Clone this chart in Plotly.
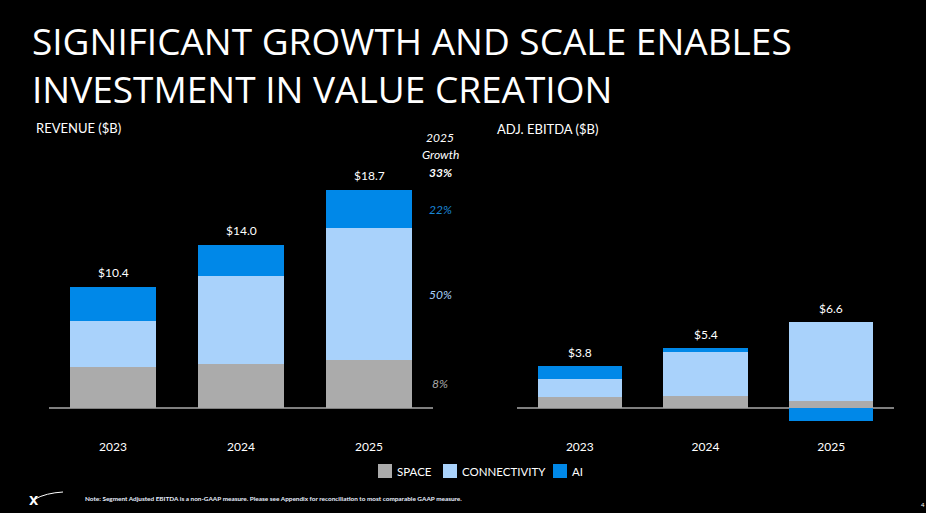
import plotly.graph_objects as go

# ---------------- data ----------------
years = ["2023", "2024", "2025"]
segments = ["SPACE", "CONNECTIVITY", "AI"]

revenue_space = [3.5, 3.7, 4.1]
revenue_connectivity = [3.9, 7.6, 11.3]
revenue_ai = [3.0, 2.7, 3.3]
revenue_totals = ["$10.4", "$14.0", "$18.7"]

ebitda_space = [1.0, 1.1, 0.6]
ebitda_connectivity = [1.6, 3.9, 7.2]
ebitda_ai = [1.2, 0.4, -1.2]
ebitda_totals = ["$3.8", "$5.4", "$6.6"]

growth_header = ["2025", "Growth", "33%"]
growth_by_segment = ["8%", "50%", "22%"]  # SPACE, CONNECTIVITY, AI

colors = {"SPACE": "#ababab", "CONNECTIVITY": "#a9d2fb", "AI": "#0088e8"}
growth_colors = ["#a9a9a9", "#a9d2fb", "#1a86d6"]

# ---------------- layout helpers ----------------
W, H = 926, 513
def px(x):
    return x / W
def py(y):
    return 1 - y / H

FONT = "Lato, Open Sans, sans-serif"
TOP, BOT = 180, 432
def yrange(zero_px, scale):
    return [-(BOT - zero_px) / scale, (zero_px - TOP) / scale]

fig = go.Figure()

rev_series = {"SPACE": revenue_space, "CONNECTIVITY": revenue_connectivity, "AI": revenue_ai}
ebi_series = {"SPACE": ebitda_space, "CONNECTIVITY": ebitda_connectivity, "AI": ebitda_ai}

for seg in segments:
    fig.add_trace(go.Bar(x=years, y=rev_series[seg], name=seg, marker_color=colors[seg],
                         marker_line_width=0, width=0.67, xaxis="x", yaxis="y",
                         showlegend=False, hoverinfo="skip"))
for seg in segments:
    fig.add_trace(go.Bar(x=years, y=ebi_series[seg], name=seg, marker_color=colors[seg],
                         marker_line_width=0, width=0.67, xaxis="x2", yaxis="y2",
                         showlegend=False, hoverinfo="skip"))

annotations = []
def note(x, y, text, size=12, color="white", xanchor="center", xref="paper", yref="paper",
         family=FONT, **kw):
    annotations.append(dict(x=x, y=y, xref=xref, yref=yref, text=text, showarrow=False,
                            xanchor=xanchor, yanchor=kw.pop("yanchor", "middle"),
                            font=dict(family=family, size=size, color=color), **kw))

# total labels (category index positions)
for i, yr in enumerate(years):
    top = revenue_space[i] + revenue_connectivity[i] + revenue_ai[i]
    note(i, top, revenue_totals[i], xref="x", yref="y", yanchor="bottom", yshift=5)
    pos = sum(v for v in (ebitda_space[i], ebitda_connectivity[i], ebitda_ai[i]) if v > 0)
    note(i, pos, ebitda_totals[i], xref="x2", yref="y2", yanchor="bottom", yshift=4)

# growth header
for txt, ypix in zip(growth_header, [137, 154, 172]):
    t = f"<b><i>{txt}</i></b>" if txt.endswith("%") else f"<i>{txt}</i>"
    note(px(440), py(ypix), t)
# growth per segment, at 2025 segment midpoints
bases = [0, revenue_space[2], revenue_space[2] + revenue_connectivity[2]]
vals = [revenue_space[2], revenue_connectivity[2], revenue_ai[2]]
for g, b, v, c in zip(growth_by_segment, bases, vals, growth_colors):
    note(px(440), b + v / 2, f"<i>{g}</i>", color=c, yref="y")

# section headers
note(px(34), py(128), "REVENUE ($B)", size=13, xanchor="left")
note(px(495), py(129), "ADJ. EBITDA ($B)", size=13, xanchor="left")

# title
note(px(30), py(40), "SIGNIFICANT GROWTH AND SCALE ENABLES", size=37, xanchor="left",
     family="Open Sans")
note(px(30), py(88), "INVESTMENT IN VALUE CREATION", size=37, xanchor="left",
     family="Open Sans")

# legend (custom: squares + labels)
legend_sq_x = [378, 443, 553]
shapes = []
for seg, x0 in zip(segments, legend_sq_x):
    shapes.append(dict(type="rect", xref="paper", yref="paper", x0=px(x0), x1=px(x0 + 14),
                       y0=py(478), y1=py(464), fillcolor=colors[seg], line_width=0))
    note(px(x0 + 17), py(471), seg, size=11.5, xanchor="left")

# footnote, logo, page number
note(px(83), py(498),
     "<b>Note: Segment Adjusted EBITDA is a non-GAAP measure. Please see Appendix for reconciliation to most comparable GAAP measure.</b>",
     size=6.4, color="#e8f0ff", xanchor="left")
note(px(27), py(501), "<b>X</b>", size=12, xanchor="left", family="DejaVu Sans")
note(px(919), py(504), "4", size=6, xanchor="left")

shapes.append(dict(type="path", xref="paper", yref="paper",
                   path=f"M {px(35)},{py(499)} Q {px(46)},{py(493)} {px(63)},{py(492)}",
                   line=dict(color="white", width=1)))

axis_common = dict(type="category", showgrid=False, showline=False, ticks="", fixedrange=True,
                   tickfont=dict(family=FONT, size=12, color="white"), ticklabelstandoff=6)
yaxis_common = dict(showticklabels=False, zeroline=True, zerolinecolor="#7f7f7f",
                    zerolinewidth=2, showgrid=False, fixedrange=True)
fig.update_layout(
    width=W, height=H, margin=dict(l=0, r=0, t=0, b=0),
    paper_bgcolor="black", plot_bgcolor="black",
    barmode="relative", bargap=0, showlegend=False,
    xaxis=dict(domain=[px(49), px(433)], anchor="y", range=[-0.5, 2.5], **axis_common),
    yaxis=dict(domain=[py(BOT), py(TOP)], anchor="x", range=yrange(407.5, 11.63), **yaxis_common),
    xaxis2=dict(domain=[px(517), px(894)], anchor="y2", range=[-0.5, 2.5], **axis_common),
    yaxis2=dict(domain=[py(BOT), py(TOP)], anchor="x2", range=yrange(407.7, 11.05), **yaxis_common),
    annotations=annotations, shapes=shapes,
)

fig.write_html("out.html")
